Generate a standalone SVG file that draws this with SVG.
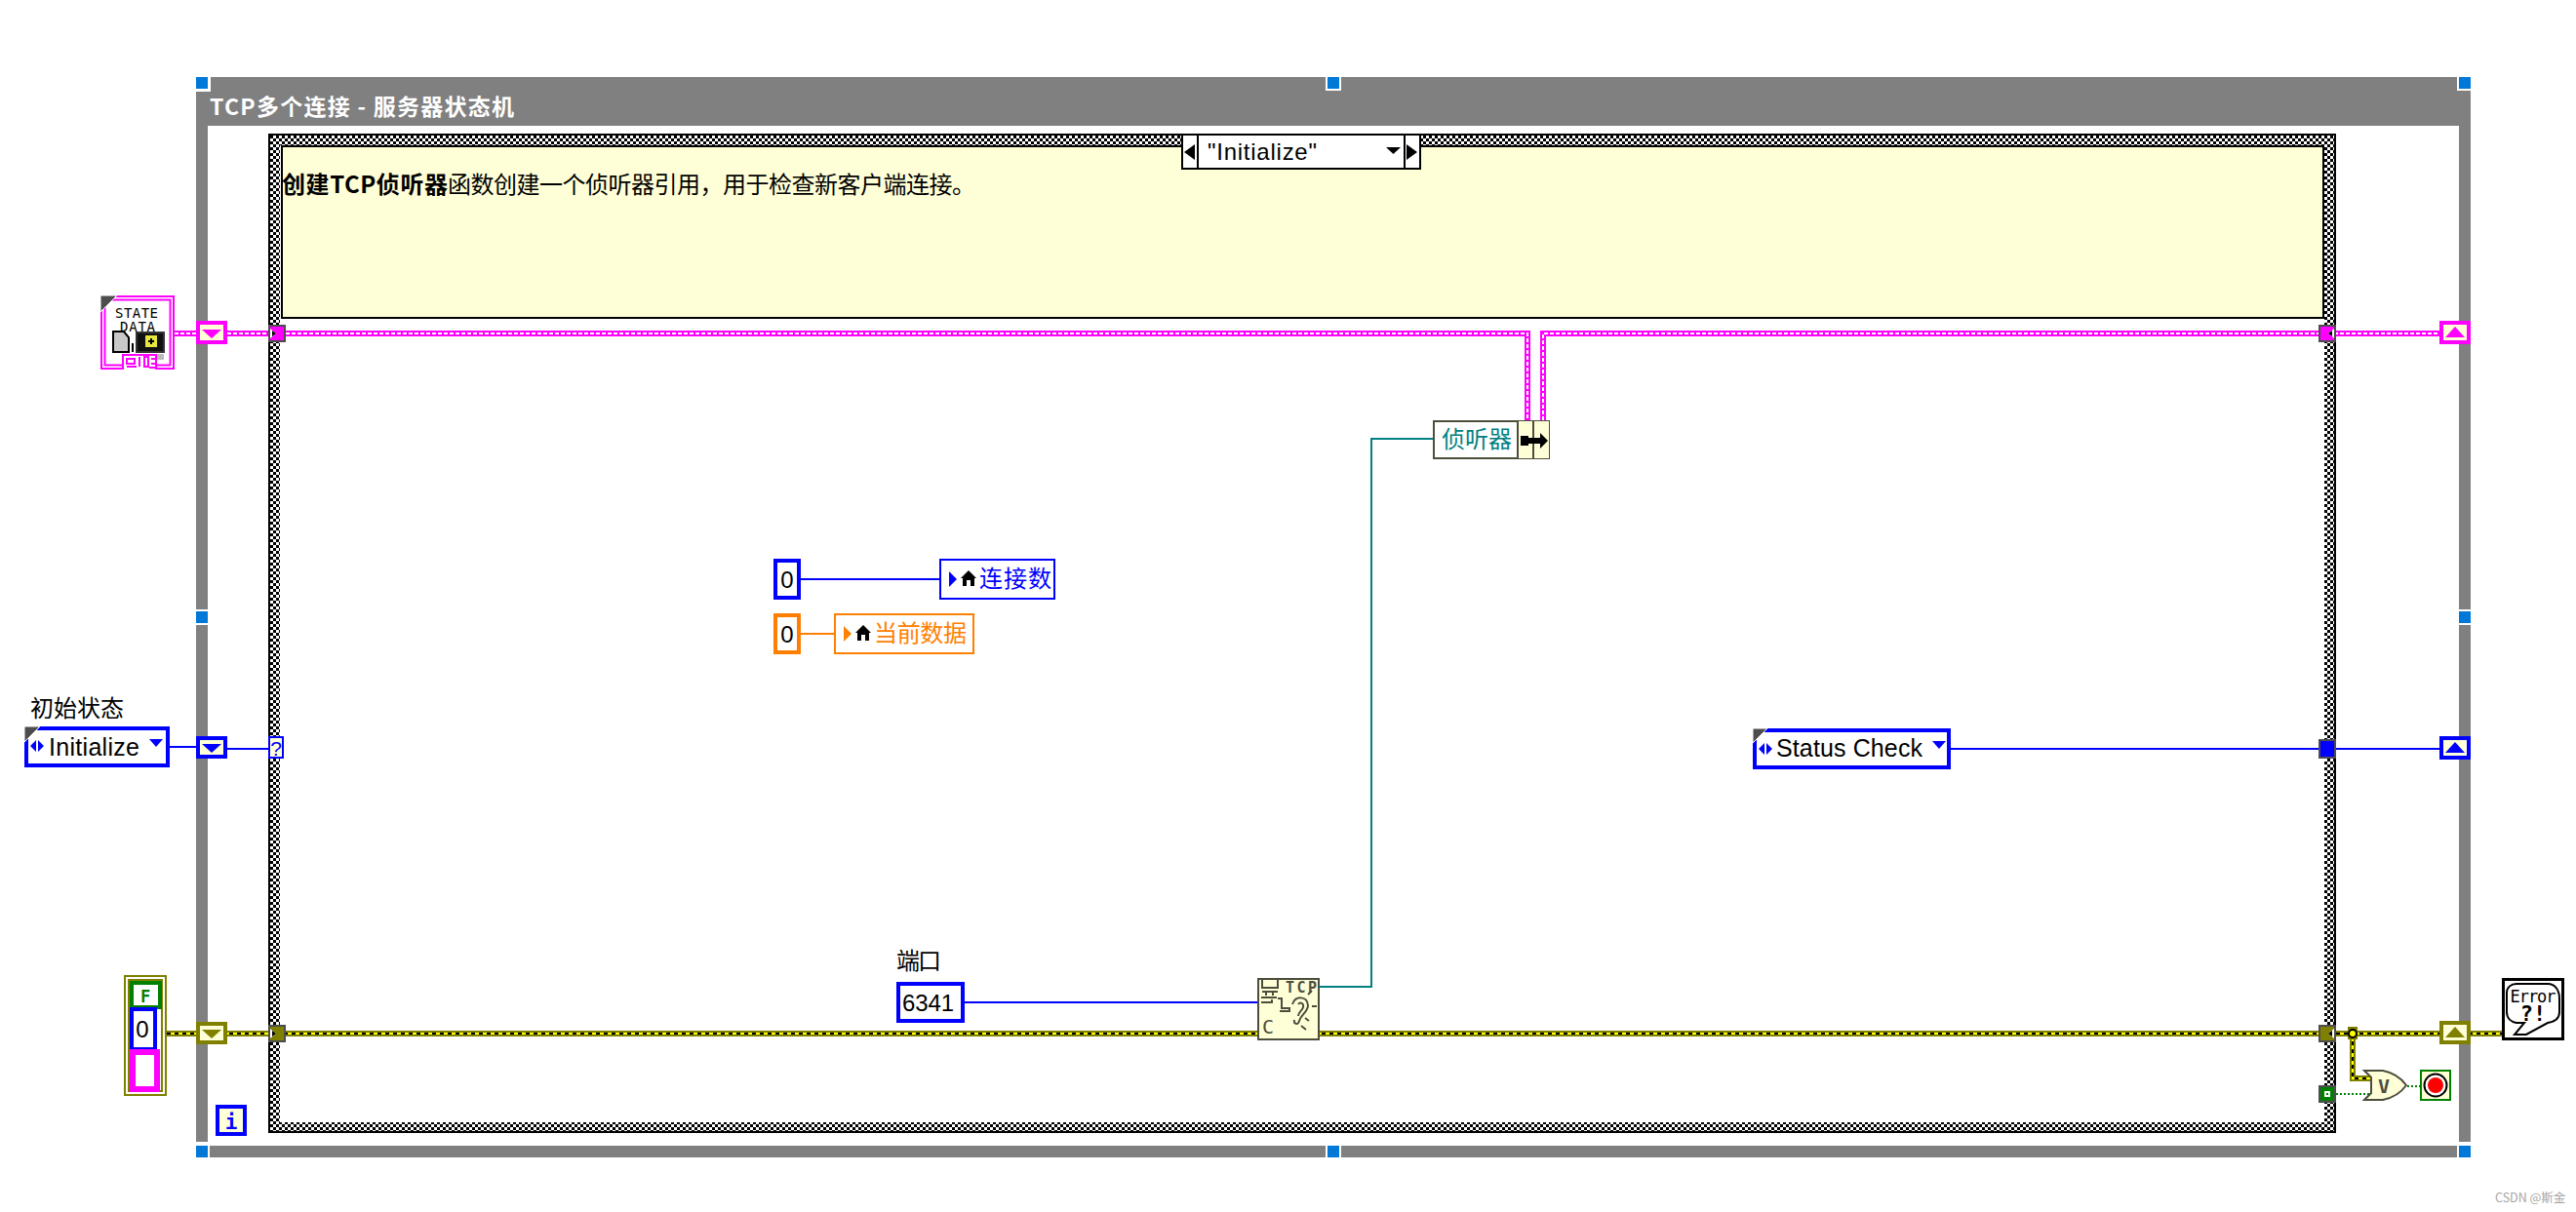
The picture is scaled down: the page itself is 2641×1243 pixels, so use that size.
<svg xmlns="http://www.w3.org/2000/svg" width="2641" height="1243" viewBox="0 0 2641 1243">
<style>
text{font-family:"Liberation Sans","Noto Sans CJK SC",sans-serif;font-size:24px;fill:#000}
.cjk{font-family:"Noto Sans CJK SC","Liberation Sans",sans-serif}
.mono{font-family:"DejaVu Sans Mono","Liberation Mono",monospace;font-weight:700}
.frame{fill:#808080}
.handle{fill:#0078d7}
.gap{fill:#fff}
.note{fill:#ffffd7}
.w-blue{fill:none;stroke:#00f;stroke-width:2}
.w-teal{fill:none;stroke:#008080;stroke-width:2}
.w-orange{fill:none;stroke:#ff8000;stroke-width:2}
.w-pink{fill:none;stroke:#f0f;stroke-width:6}
.w-pink-in{fill:none;stroke:#fff;stroke-width:2;stroke-dasharray:4 2}
.w-olive{fill:none;stroke:#808000;stroke-width:6}
.w-yellow{fill:none;stroke:#ff0;stroke-width:2}
.w-black{fill:none;stroke:#000;stroke-width:2;stroke-dasharray:4 4}
.w-green{fill:none;stroke:#008000;stroke-width:2;stroke-dasharray:2 2}
.ctl-blue{fill:#fff;stroke:#00f;stroke-width:4}
.ctl-orange{fill:#fff;stroke:#ff8000;stroke-width:4}
.lv-blue{fill:#fff;stroke:#00f;stroke-width:2}
.lv-orange{fill:#fff;stroke:#ff8000;stroke-width:2}
.term{stroke:#4d4d4d;stroke-width:2}
.fn{fill:#ffffd7;stroke:#4d4d3d;stroke-width:2}
.corner{fill:#4d4d4d;stroke:#fff;stroke-width:1}
.ic{fill:none;stroke:#4d4d3d;stroke-width:2}
</style>
<defs>
<pattern id="chk" x="277" y="139" width="6" height="6" patternUnits="userSpaceOnUse">
<rect width="6" height="6" fill="#fff"/>
<rect x="0" y="0" width="3" height="3" fill="#000"/>
<rect x="3" y="3" width="3" height="3" fill="#000"/>
</pattern>
<path id="house" d="M8 0 16 8H14V16H10V10H6V16H2V8H0Z" fill="#000"/>
<path id="lr" d="M0 7 6 1V13ZM8 1 14 7 8 13Z" fill="#00f"/>
</defs>

<g id="while-loop">
<path class="frame" fill-rule="evenodd" d="M201 79H2533V1187H201ZM213 129V1175H2521V129Z"/>
<g id="loop-handles">
<rect class="gap" x="201" y="79" width="15" height="15"/><rect class="handle" x="201" y="79" width="12" height="12"/>
<rect class="gap" x="1359" y="79" width="16" height="14"/><rect class="handle" x="1361" y="79" width="12" height="12"/>
<rect class="gap" x="2519" y="79" width="14" height="14"/><rect class="handle" x="2521" y="79" width="12" height="12"/>
<rect class="gap" x="201" y="625" width="12" height="16"/><rect class="handle" x="201" y="627" width="12" height="12"/>
<rect class="gap" x="2521" y="625" width="12" height="16"/><rect class="handle" x="2521" y="627" width="12" height="12"/>
<rect class="gap" x="201" y="1171" width="14" height="16"/><rect class="handle" x="201" y="1175" width="12" height="12"/>
<rect class="gap" x="1359" y="1173" width="16" height="14"/><rect class="handle" x="1361" y="1175" width="12" height="12"/>
<rect class="gap" x="2519" y="1171" width="14" height="16"/><rect class="handle" x="2521" y="1175" width="12" height="12"/>
</g>
<text x="215" y="118" class="cjk" style="font-size:23px;font-weight:700;fill:#fff" textLength="312">TCP多个连接 - 服务器状态机</text>
</g>

<g id="case-structure">
<rect x="275" y="137" width="2120" height="1025" fill="url(#chk)"/>
<rect x="276" y="138" width="2118" height="1023" fill="none" stroke="#000" stroke-width="2"/>
<rect x="287" y="149" width="2096" height="1002" fill="#fff"/>
</g>

<g id="note">
<rect class="note" x="289" y="150" width="2093" height="176" stroke="#000" stroke-width="2"/>
<text x="289" y="198" class="cjk" style="font-weight:700" textLength="170">创建TCP侦听器</text>
<text x="459" y="198" class="cjk" textLength="541">函数创建一个侦听器引用，用于检查新客户端连接。</text>
</g>

<g id="connectors">
<path class="w-pink" d="M179 342H1566V431"/>
<path class="w-pink-in" d="M179 342H1566V431"/>
<path class="w-pink" d="M1582 431V342H2501"/>
<path class="w-pink-in" d="M1582 431V342H2501"/>
<path class="w-blue" d="M173 766H201"/>
<path class="w-blue" d="M233 768H276"/>
<path class="w-blue" d="M2000 768H2501"/>
<path class="w-olive" d="M171 1060H2565"/>
<path class="w-yellow" d="M171 1060H2565"/>
<path class="w-black" d="M171 1060H2565"/>
<path class="w-olive" d="M2412 1060V1106H2430"/>
<path class="w-yellow" d="M2412 1060V1106H2430"/>
<path class="w-black" d="M2412 1060V1106H2430"/>
<path class="w-green" d="M2395 1122H2430"/>
<path class="w-green" d="M2468 1114H2481"/>
<path class="w-blue" d="M821 594H963"/>
<path class="w-orange" d="M821 650H855"/>
<path class="w-blue" d="M989 1028H1289"/>
<path class="w-teal" d="M1353 1012H1406V450H1469"/>
</g>

<g id="state-data">
<rect x="104" y="304" width="74" height="74" fill="#fff" stroke="#f0f" stroke-width="2"/>
<rect x="107.500" y="307.500" width="67" height="67" fill="none" stroke="#f0f" stroke-width="2"/>
<path class="corner" d="M103 303H120L103 320Z"/>
<text x="140" y="326" text-anchor="middle" class="mono" style="font-size:14px;font-weight:400" textLength="44">STATE</text>
<text x="141" y="340" text-anchor="middle" class="mono" style="font-size:14px;font-weight:400" textLength="36">DATA</text>
<path d="M116 340H127L132 346V361H116Z" fill="#c8c8c8" stroke="#000" stroke-width="2"/>
<rect x="135" y="352" width="2" height="9" fill="#000"/>
<rect x="140" y="341" width="28" height="20" fill="#111" stroke="#333" stroke-width="2"/>
<rect x="149" y="344" width="12" height="12" fill="#e6e640"/>
<path d="M152 350H158M155 347V353" stroke="#000" stroke-width="2"/>
<path d="M160 363H168V369H160Z" fill="#bbb"/>
<path d="M126 379V364H160V379" fill="#fff" stroke="#f0f" stroke-width="2"/>
<path d="M130 368H138V373H130ZM130 376H140M143 366V376M148 366H152V376H148ZM155 368H159M155 373H159M153 377H160" fill="none" stroke="#f0f" stroke-width="2"/>
</g>

<g id="initial-state">
<text x="31" y="735" class="cjk" textLength="96">初始状态</text>
<rect class="ctl-blue" x="27" y="747" width="145" height="38"/>
<path class="corner" d="M25 745H41L25 761Z"/>
<use href="#lr" x="31" y="758"/>
<text x="50" y="775" textLength="93" style="font-size:25px">Initialize</text>
<path d="M153 758H167L160 766Z" fill="#00f"/>
</g>

<g id="error-cluster">
<rect x="128" y="1001" width="42" height="122" fill="#fff" stroke="#808000" stroke-width="2"/>
<rect x="132" y="1005" width="34" height="114" fill="none" stroke="#808000" stroke-width="2"/>
<rect x="135" y="1008" width="29" height="25" fill="#fff" stroke="#008000" stroke-width="4"/>
<text x="149" y="1028" text-anchor="middle" class="mono" style="font-size:17px;fill:#008000">F</text>
<rect x="135" y="1035" width="24" height="41" fill="#fff" stroke="#00f" stroke-width="4"/>
<text x="146" y="1064" text-anchor="middle" style="font-size:24px">0</text>
<rect x="136" y="1079" width="25" height="38" fill="#fff" stroke="#f0f" stroke-width="6"/>
</g>

<g id="tunnel-pink-left">
<rect class="note" x="203" y="331" width="28" height="20" stroke="#f0f" stroke-width="4"/>
<path d="M207 338H227L217 347Z" fill="#f0f"/>
</g>
<g id="tunnel-blue-left">
<rect class="note" x="203" y="757" width="28" height="19" stroke="#00f" stroke-width="4"/>
<path d="M207 763H227L217 772Z" fill="#00f"/>
</g>
<g id="tunnel-olive-left">
<rect class="note" x="203" y="1050" width="28" height="19" stroke="#808000" stroke-width="4"/>
<path d="M207 1056H227L217 1065Z" fill="#808000"/>
</g>

<g id="tunnel-pink-case-in">
<rect class="term" x="276" y="334" width="16" height="16" fill="#f0f"/>
<path d="M277 337 283 342 277 347Z" fill="#fff"/><path d="M279 339 283 342 279 345Z" fill="#000"/>
</g>
<g id="selector-terminal">
<rect x="276" y="756" width="14" height="21" fill="#ffffd7" stroke="#00f" stroke-width="2"/>
<text x="283" y="775" text-anchor="middle" style="font-size:21px;fill:#00f">?</text>
</g>
<g id="tunnel-olive-case-in">
<rect class="term" x="276" y="1052" width="16" height="16" fill="#808000"/>
<path d="M277 1055 283 1060 277 1065Z" fill="#fff"/><path d="M279 1057 283 1060 279 1063Z" fill="#000"/>
</g>

<g id="iteration">
<rect x="223" y="1135" width="28" height="28" fill="#ffffd7" stroke="#00f" stroke-width="4"/>
<text x="237" y="1158" text-anchor="middle" class="mono" style="font-size:21px;fill:#00f">i</text>
</g>

<g id="case-selector">
<rect x="1212" y="138" width="244" height="35" fill="#fff" stroke="#000" stroke-width="2"/>
<path d="M1228 138V173M1440 138V173" stroke="#000" stroke-width="2"/>
<path d="M1214 156 1225 148V164Z" fill="#000"/>
<path d="M1453 156 1442 148V164Z" fill="#000"/>
<path d="M1421 151H1436L1428.500 158Z" fill="#000"/>
<text x="1238" y="164" textLength="112" style="font-size:24px">"Initialize"</text>
</g>

<g id="bundle">
<rect x="1470" y="432" width="118" height="38" fill="#fff" stroke="#4d4d3d" stroke-width="2"/>
<rect class="note" x="1556" y="432" width="16" height="38"/>
<rect class="note" x="1572" y="432" width="16" height="38"/>
<path d="M1556 432V470M1572 432V470" stroke="#4d4d3d" stroke-width="2"/>
<path d="M1559 447H1567V449H1579V444L1587 452 1579 460V455H1567V457H1559Z" fill="#000"/>
<text x="1478" y="459" class="cjk" style="fill:#008080" textLength="72">侦听器</text>
</g>

<g id="const-count">
<rect class="ctl-blue" x="795" y="575" width="24" height="38"/>
<text x="807" y="603" text-anchor="middle">0</text>
</g>
<g id="local-count">
<rect class="lv-blue" x="964" y="574" width="117" height="40"/>
<path d="M973 586 981 594 973 602Z" fill="#00f"/>
<use href="#house" x="985" y="585"/>
<text x="1004" y="602" class="cjk" style="fill:#00f" textLength="74">连接数</text>
</g>
<g id="const-data">
<rect class="ctl-orange" x="795" y="631" width="24" height="38"/>
<text x="807" y="659" text-anchor="middle">0</text>
</g>
<g id="local-data">
<rect class="lv-orange" x="856" y="630" width="142" height="40"/>
<path d="M865 642 873 650 865 658Z" fill="#ff8000"/>
<use href="#house" x="877" y="641"/>
<text x="896" y="658" class="cjk" style="fill:#ff8000" textLength="95">当前数据</text>
</g>

<g id="port">
<text x="919" y="994" class="cjk" textLength="46">端口</text>
<rect class="ctl-blue" x="921" y="1009" width="66" height="38"/>
<text x="925" y="1037" textLength="53">6341</text>
</g>

<g id="tcp-create-listener">
<rect class="fn" x="1290" y="1004" width="62" height="62"/>
<path class="ic" d="M1294 1005V1013H1310V1005M1294 1017H1310M1298 1017V1021M1305 1017V1021M1293 1023H1309M1293 1028H1304V1025M1310 1024H1314V1034H1322V1037H1312"/>
<text x="1334" y="1018" text-anchor="middle" class="mono" style="font-size:15px;fill:#4d4d3d" textLength="32">TCP</text>
<path class="ic" d="M1325 1030C1328 1021 1340 1021 1341 1031 1341 1038 1334 1040 1332 1047 1331 1052 1326 1050 1327 1046M1331 1030C1333 1027 1337 1029 1336 1033 1335 1037 1331 1038 1331 1042M1345 1016 1341 1020M1345 1032H1350M1338 1044 1342 1047M1334 1052 1339 1056"/>
<text x="1300" y="1060" text-anchor="middle" class="mono" style="font-size:20px;font-weight:400;fill:#4d4d3d">C</text>
</g>

<g id="status-check">
<rect class="ctl-blue" x="1799" y="749" width="199" height="38"/>
<path class="corner" d="M1797 747H1812L1797 762Z"/>
<use href="#lr" x="1803" y="761"/>
<text x="1821" y="776" textLength="150" style="font-size:25px">Status Check</text>
<path d="M1981 760H1995L1988 768Z" fill="#00f"/>
</g>

<g id="tunnel-pink-case-out">
<rect class="term" x="2378" y="334" width="16" height="16" fill="#f0f"/>
<path d="M2393 337 2387 342 2393 347Z" fill="#fff"/><path d="M2391 339 2387 342 2391 345Z" fill="#000"/>
</g>
<g id="tunnel-blue-case-out">
<rect class="term" x="2378" y="759" width="16" height="18" fill="#00f"/>
</g>
<g id="tunnel-olive-case-out">
<rect class="term" x="2378" y="1052" width="16" height="16" fill="#808000"/>
<path d="M2393 1055 2387 1060 2393 1065Z" fill="#fff"/><path d="M2391 1057 2387 1060 2391 1063Z" fill="#000"/>
</g>
<g id="case-terminal-green">
<rect class="term" x="2378" y="1114" width="16" height="16" fill="#008000"/>
<rect x="2383" y="1119" width="6" height="6" fill="#fff"/><rect x="2385" y="1121" width="2" height="2" fill="#008000"/>
</g>

<g id="tunnel-pink-right">
<rect class="note" x="2503" y="331" width="28" height="20" stroke="#f0f" stroke-width="4"/>
<path d="M2507 346H2527L2517 335Z" fill="#f0f"/>
</g>
<g id="tunnel-blue-right">
<rect class="note" x="2503" y="757" width="28" height="20" stroke="#00f" stroke-width="4"/>
<path d="M2507 772H2527L2517 761Z" fill="#00f"/>
</g>
<g id="tunnel-olive-right">
<rect class="note" x="2503" y="1049" width="28" height="20" stroke="#808000" stroke-width="4"/>
<path d="M2507 1064H2527L2517 1053Z" fill="#808000"/>
</g>

<g id="junction">
<rect x="2407" y="1053" width="10" height="13" fill="#808000"/>
<circle cx="2412" cy="1060" r="4" fill="#ff0" stroke="#000" stroke-width="2"/>
</g>

<g id="or-gate">
<path d="M2424 1098H2443C2453 1100 2462 1106 2467 1113 2462 1120 2453 1126 2443 1128H2424L2431 1121V1105Z" fill="#ffffd7" stroke="#4d4d3d" stroke-width="2"/>
<text x="2444" y="1121" text-anchor="middle" class="mono" style="font-size:20px;fill:#4d4d3d">V</text>
</g>

<g id="stop">
<rect x="2482" y="1098" width="30" height="30" fill="#ffffd7" stroke="#008000" stroke-width="2"/>
<circle cx="2497" cy="1113" r="11.500" fill="#fff" stroke="#000" stroke-width="2"/>
<circle cx="2497" cy="1113" r="8" fill="#f00"/>
</g>

<g id="error-handler">
<rect x="2566.500" y="1004.500" width="61" height="61" fill="#fff" stroke="#000" stroke-width="3"/>
<path d="M2580 1009H2612C2620 1009 2624 1016 2624 1024V1038C2624 1045 2618 1048 2612 1049L2590 1061H2578L2588 1049H2580C2574 1048 2570 1044 2570 1038V1018C2570 1013 2574 1009 2580 1009Z" fill="none" stroke="#000" stroke-width="2"/>
<text x="2597" y="1028" text-anchor="middle" class="mono" style="font-size:17px;font-weight:400" textLength="47">Error</text>
<text x="2597" y="1047" text-anchor="middle" class="mono" style="font-size:22px">?!</text>
</g>

<g id="watermark">
<text x="2558" y="1233" style="font-size:12.500px;fill:#a6a6a6" class="cjk">CSDN @斯金</text>
</g>
</svg>
